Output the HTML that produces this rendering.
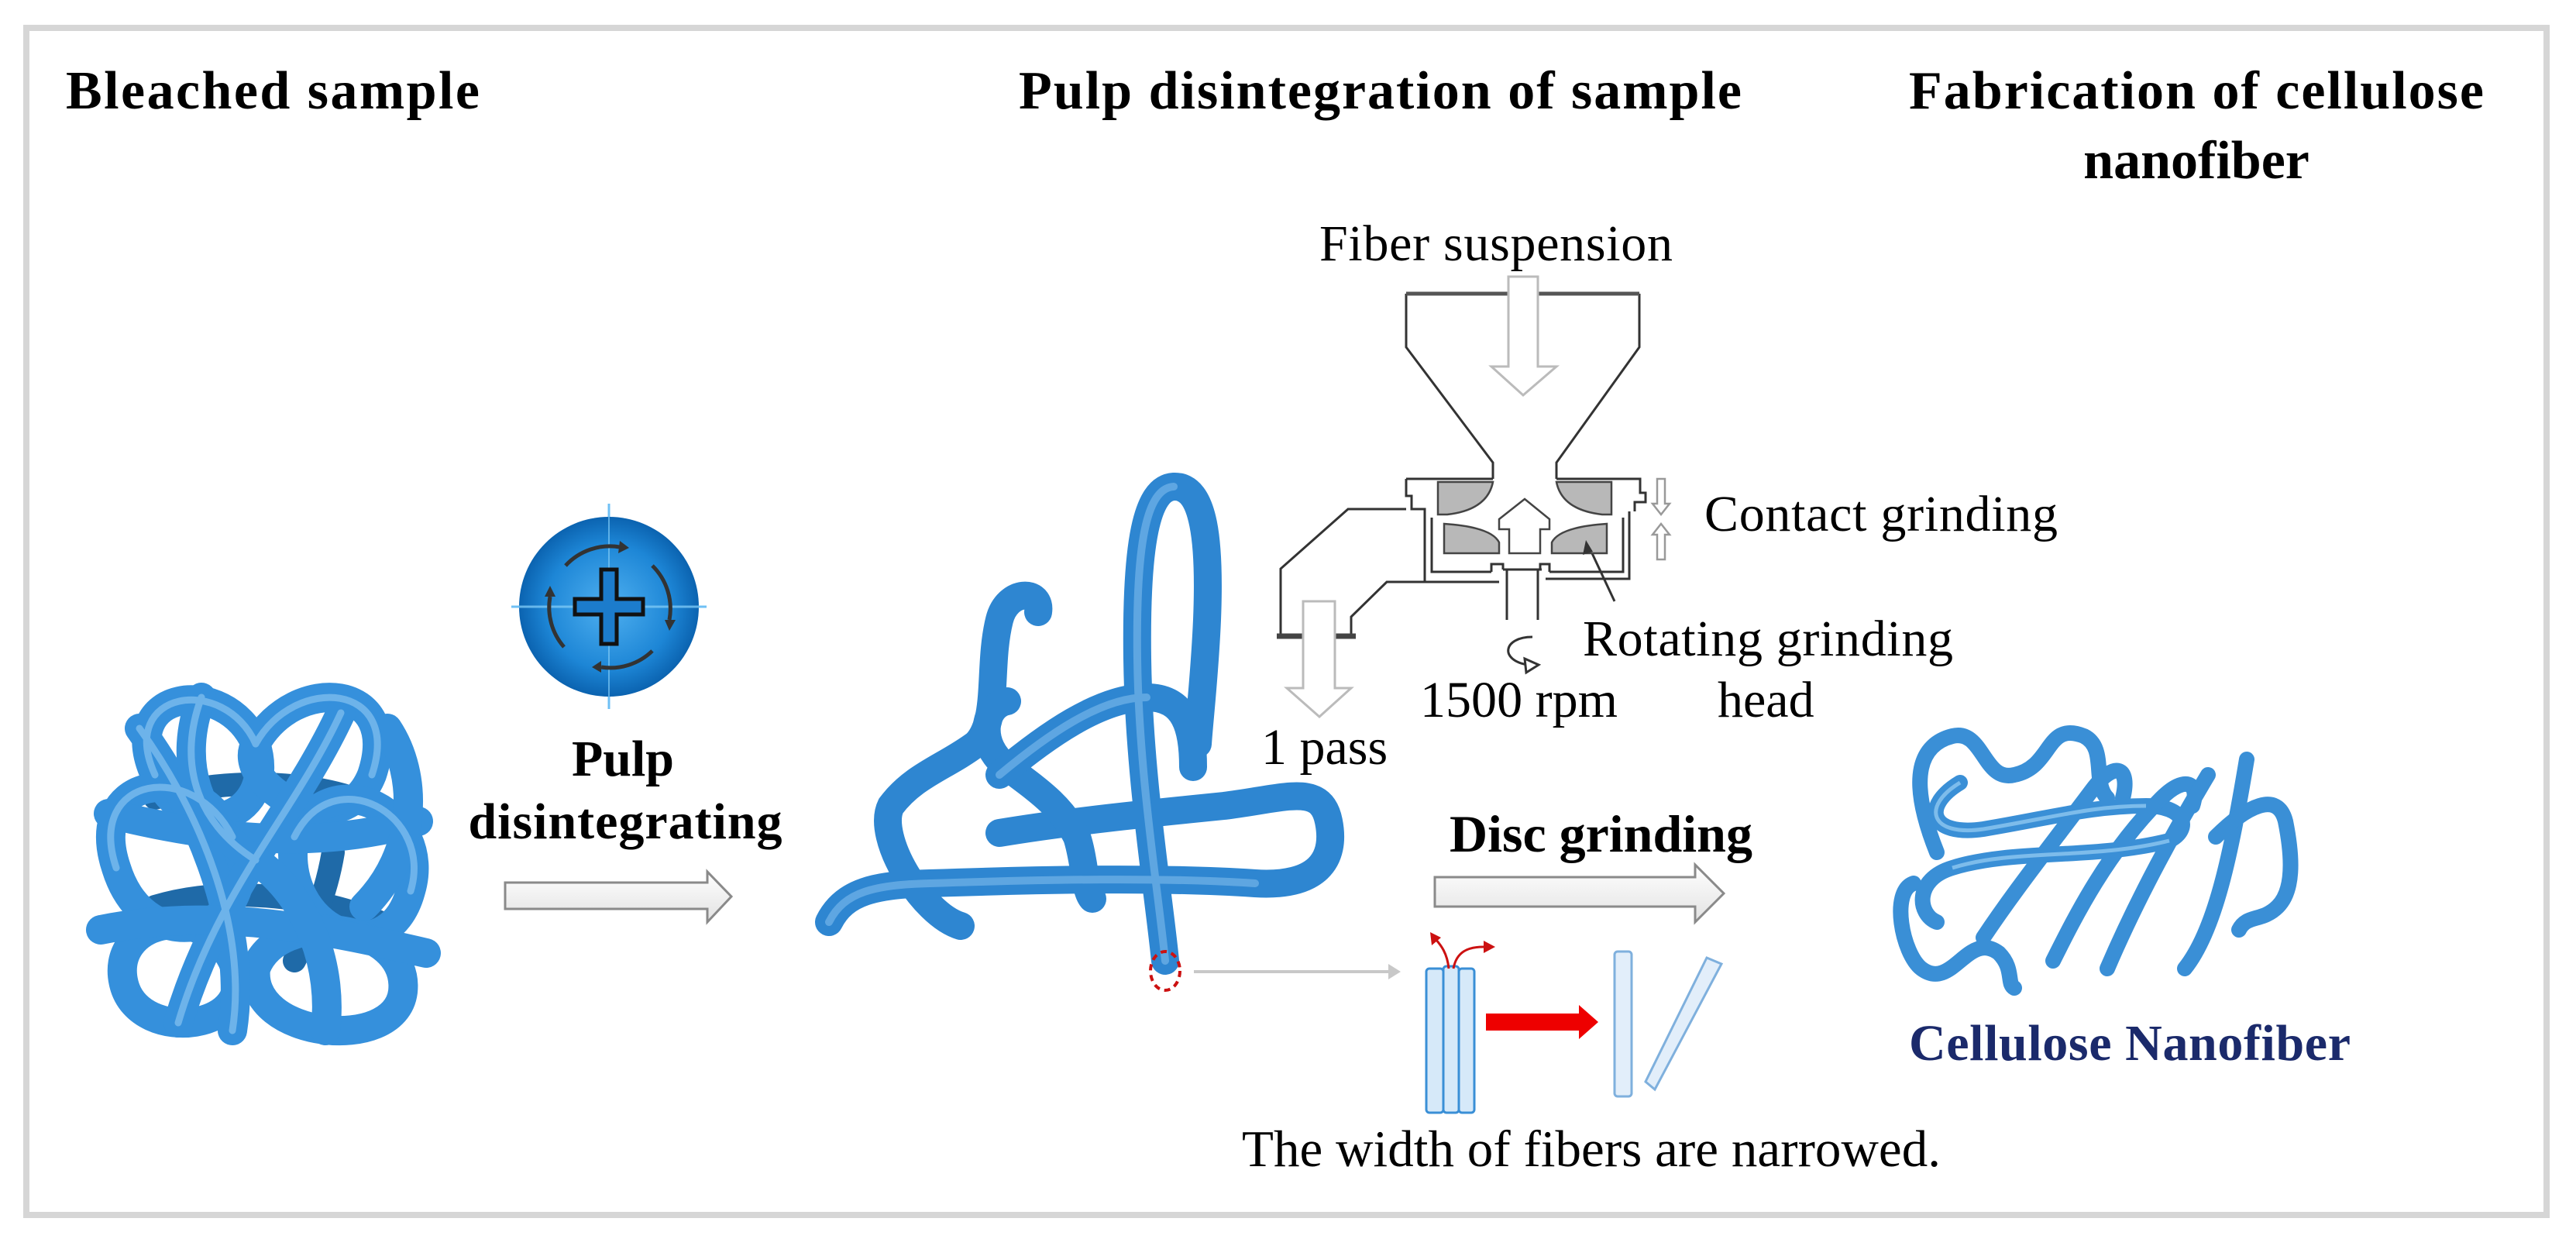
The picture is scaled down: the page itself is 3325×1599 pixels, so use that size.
<!DOCTYPE html>
<html><head><meta charset="utf-8"><style>
html,body{margin:0;padding:0;background:#fff}
svg{display:block}
text{font-family:"Liberation Serif",serif}
</style></head><body>
<svg width="3325" height="1599" viewBox="0 0 3325 1599" xmlns="http://www.w3.org/2000/svg">
<defs>
<radialGradient id="cg" cx="50%" cy="50%" r="50%">
<stop offset="0" stop-color="#4fb0f0"/><stop offset="0.7" stop-color="#1d86d6"/><stop offset="1" stop-color="#0b63b0"/>
</radialGradient>
<linearGradient id="ag" x1="0" y1="0" x2="0" y2="1">
<stop offset="0" stop-color="#ffffff"/><stop offset="1" stop-color="#e2e2e2"/>
</linearGradient>
</defs>
<rect x="0" y="0" width="3325" height="1599" fill="#fff"/>
<rect x="34" y="36" width="3253" height="1532" fill="none" stroke="#d6d6d6" stroke-width="8"/>

<!-- Titles -->
<text x="85" y="140" font-size="70" font-weight="bold" textLength="534">Bleached sample</text>
<text x="1315" y="140" font-size="70" font-weight="bold" textLength="933">Pulp disintegration of sample</text>
<text x="2464" y="140" font-size="70" font-weight="bold" textLength="742">Fabrication of cellulose</text>
<text x="2835" y="230" font-size="70" font-weight="bold" text-anchor="middle">nanofiber</text>

<!-- Left blob -->
<g fill="none" stroke-linecap="round">
<g stroke="#1f6aa8" stroke-width="30">
<path d="M200,1030 C300,1000 420,1010 480,1040"/>
<path d="M200,1170 C300,1140 420,1160 490,1190"/>
<path d="M380,1240 C400,1200 420,1160 430,1100"/>
</g>
<g stroke="#3590dc" stroke-width="38">
<path d="M200,1000 C150,890 290,870 330,960 C360,1050 250,1100 200,1000"/>
<path d="M330,960 C380,870 520,880 480,1000 C440,1100 300,1010 330,960"/>
<path d="M150,1120 C110,1000 250,980 300,1080 C350,1200 190,1250 150,1120"/>
<path d="M380,1080 C430,980 560,1050 530,1150 C500,1260 360,1200 380,1080"/>
<path d="M160,1270 C140,1190 260,1160 300,1240 C340,1330 180,1350 160,1270"/>
<path d="M330,1250 C360,1170 530,1190 520,1280 C510,1360 320,1340 330,1250"/>
<path d="M180,940 C260,1050 320,1200 300,1330"/>
<path d="M440,920 C380,1050 280,1150 230,1320"/>
<path d="M140,1050 C260,1080 400,1100 540,1060"/>
<path d="M130,1200 C280,1170 420,1200 550,1230"/>
<path d="M260,900 C230,980 250,1060 330,1110 C400,1160 430,1250 420,1330"/>
<path d="M500,940 C540,1000 540,1100 470,1170"/>
</g>
<g stroke="#8cc6f2" stroke-width="9" opacity="0.65">
<path d="M200,1000 C150,890 290,870 330,960"/>
<path d="M330,960 C380,870 520,880 480,1000"/>
<path d="M150,1120 C110,1000 250,980 300,1080"/>
<path d="M380,1080 C430,980 560,1050 530,1150"/>
<path d="M180,940 C260,1050 320,1200 300,1330"/>
<path d="M440,920 C380,1050 280,1150 230,1320"/>
<path d="M260,900 C230,980 250,1060 330,1110"/>
</g>
</g>

<!-- Circle icon -->
<line x1="786" y1="650" x2="786" y2="915" stroke="#6fc0f5" stroke-width="3"/>
<line x1="660" y1="783" x2="912" y2="783" stroke="#6fc0f5" stroke-width="3"/>
<circle cx="786" cy="783" r="116" fill="url(#cg)"/>
<line x1="786" y1="667" x2="786" y2="899" stroke="#7cc8f5" stroke-width="2" opacity="0.7"/>
<line x1="670" y1="783" x2="902" y2="783" stroke="#7cc8f5" stroke-width="3" opacity="0.8"/>
<g fill="none" stroke="#333" stroke-width="5">
<path d="M730,730 A78,78 0 0 1 800,706"/>
<path d="M842,730 A78,78 0 0 1 864,800"/>
<path d="M842,840 A78,78 0 0 1 776,861"/>
<path d="M728,835 A78,78 0 0 1 710,770"/>
</g>
<g fill="#333">
<polygon points="800,698 812,707 798,714"/>
<polygon points="858,800 872,800 864,814"/>
<polygon points="776,853 764,861 776,868"/>
<polygon points="703,770 717,770 710,756"/>
</g>
<path d="M776,735 H796 V773 H830 V793 H796 V831 H776 V793 H742 V773 H776 Z" fill="#1c7ccc" stroke="#111" stroke-width="5"/>

<text x="804" y="1001" font-size="66" font-weight="bold" text-anchor="middle">Pulp</text>
<text x="807" y="1082" font-size="66" font-weight="bold" text-anchor="middle" textLength="405">disintegrating</text>

<!-- Arrow 1 -->
<polygon points="652,1139 913,1139 913,1125 944,1157 913,1190 913,1173 652,1173" fill="url(#ag)" stroke="#8a8a8a" stroke-width="3"/>

<!-- Middle fiber -->
<g fill="none" stroke-linecap="round">
<g stroke="#2e86d1" stroke-width="36">
<path d="M1504,1240 C1495,1150 1470,1000 1468,850 C1466,700 1480,630 1515,628 C1555,626 1562,700 1558,800 C1555,870 1548,930 1546,960"/>
<path d="M1070,1190 C1090,1150 1130,1142 1200,1140 C1350,1135 1500,1132 1620,1140 C1700,1145 1725,1110 1715,1060 C1705,1010 1660,1030 1580,1040 C1480,1050 1380,1060 1290,1075"/>
<path d="M1340,790 C1345,760 1300,760 1290,800 C1275,860 1290,930 1260,960 C1220,990 1180,1000 1150,1040 C1130,1080 1190,1180 1240,1195"/>
<path d="M1300,905 C1270,910 1260,960 1300,990 C1340,1020 1370,1040 1390,1080 C1400,1110 1400,1150 1410,1160"/>
<path d="M1290,1000 C1350,950 1420,900 1480,900 C1530,900 1540,940 1540,990"/>
</g>
<g stroke="#7fbcec" stroke-width="10" opacity="0.6">
<path d="M1504,1240 C1495,1150 1470,1000 1468,850 C1466,700 1480,630 1515,628"/>
<path d="M1070,1190 C1090,1150 1130,1142 1200,1140 C1350,1135 1500,1132 1620,1140"/>
<path d="M1290,1000 C1350,950 1420,900 1480,900"/>
</g>
</g>
<ellipse cx="1504" cy="1253" rx="19" ry="25" fill="none" stroke="#cc1111" stroke-width="4" stroke-dasharray="8,6"/>
<line x1="1541" y1="1254" x2="1795" y2="1254" stroke="#c8c8c8" stroke-width="4"/>
<polygon points="1792,1244 1808,1254 1792,1264" fill="#c8c8c8"/>

<!-- Machine (full coords) -->
<text x="1703" y="336" font-size="66" textLength="456">Fiber suspension</text>
<text x="2200" y="685" font-size="66" textLength="456">Contact grinding</text>
<text x="2043" y="846" font-size="66" textLength="478">Rotating grinding</text>
<text x="2217" y="925" font-size="66">head</text>
<text x="1833" y="925" font-size="66" textLength="255">1500 rpm</text>
<text x="1628" y="986" font-size="66">1 pass</text>

<g fill="none" stroke="#333" stroke-width="3">
<path d="M1815,379 V448 L1927,597 V618"/>
<path d="M2116,379 V448 L2009,597 V618"/>
<path d="M1815,618 H1927 M2009,618 H2117 V636 H2124 V648 H2110 V660"/>
<path d="M1815,618 V640 H1822 V657 H1839 V751 H1935"/>
<path d="M2103,660 V747 H1995"/>
<path d="M1848,668 V738 H1925 M2000,738 H2095 V668"/>
<path d="M1925,738 V728 H1940 V735 M2000,738 V728 H1988 V735"/>
<path d="M1940,735 H1990 M1945,735 V800 M1985,735 V800"/>
<path d="M1815,657 H1740 L1653,734 V821"/>
<path d="M1839,751 H1790 L1744,796 V821"/>
<path d="M1978,822 C1940,822 1935,852 1972,858"/>
<line x1="2047" y1="697" x2="2084" y2="776"/>
</g>
<line x1="1815" y1="379" x2="2116" y2="379" stroke="#555" stroke-width="5"/>
<line x1="1648" y1="821" x2="1750" y2="821" stroke="#444" stroke-width="7"/>
<polygon points="1968,850 1986,858 1970,868" fill="#fff" stroke="#333" stroke-width="3"/>
<g fill="#b8b8b8" stroke="#444" stroke-width="2.5">
<path d="M1856,622 H1927 Q1920,658 1868,664 H1856 Z"/>
<path d="M2080,622 H2009 Q2016,658 2068,664 H2080 Z"/>
<path d="M1864,676 Q1925,680 1935,700 V714 H1864 Z"/>
<path d="M2074,676 Q2013,680 2003,700 V714 H2074 Z"/>
</g>
<path d="M1948,714 V683 H1935 V670 L1968,644 L2000,670 V683 H1988 V714 Z" fill="#fff" stroke="#444" stroke-width="2.5"/>
<polygon points="1947,357 1985,357 1985,473 2009,473 1966,510 1925,473 1947,473" fill="#fff" stroke="#bbb" stroke-width="3"/>
<polygon points="1682,776 1723,776 1723,888 1744,888 1703,925 1661,888 1682,888" fill="#fff" stroke="#bbb" stroke-width="3"/>
<polygon points="2139,618 2149,618 2149,650 2155,650 2144,664 2133,650 2139,650" fill="#fff" stroke="#999" stroke-width="2.5"/>
<polygon points="2144,676 2155,690 2149,690 2149,722 2139,722 2139,690 2133,690" fill="#fff" stroke="#999" stroke-width="2.5"/>
<polygon points="2047,697 2043,716 2056,712" fill="#333"/>

<!-- Disc grinding -->
<text x="1871" y="1099" font-size="68" font-weight="bold" textLength="391">Disc grinding</text>
<polygon points="1852,1132 2188,1132 2188,1116 2225,1153 2188,1190 2188,1170 1852,1170" fill="url(#ag)" stroke="#8a8a8a" stroke-width="3"/>

<!-- fibers -->
<g stroke="#3a8fd6" stroke-width="3" fill="#d6e9f9">
<rect x="1841" y="1250" width="22" height="186" rx="4"/>
<rect x="1863" y="1247" width="20" height="189" rx="4"/>
<rect x="1883" y="1250" width="20" height="186" rx="4"/>
<rect x="2084" y="1228" width="22" height="187" rx="4" fill="#e2eefa" stroke="#7fb0dd"/>
<polygon points="2203,1236 2222,1244 2136,1406 2124,1396" fill="#e2eefa" stroke="#7fb0dd"/>
</g>
<g fill="none" stroke="#cc1111" stroke-width="3">
<path d="M1870,1250 C1868,1230 1860,1220 1853,1212"/>
<path d="M1876,1250 C1880,1228 1895,1222 1915,1222"/>
</g>
<polygon points="1846,1203 1860,1210 1848,1220" fill="#cc1111"/>
<polygon points="1915,1214 1930,1222 1915,1230" fill="#cc1111"/>
<polygon points="1918,1308 2038,1308 2038,1297 2063,1319 2038,1341 2038,1330 1918,1330" fill="#ee0000"/>

<text x="1603" y="1505" font-size="67" textLength="902">The width of fibers are narrowed.</text>

<!-- Nanofiber -->
<g fill="none" stroke-linecap="round" stroke="#3a8fd6" stroke-width="20">
<path d="M2500,1100 C2460,1000 2480,960 2520,950 C2560,940 2560,1010 2600,1000 C2650,990 2640,930 2690,950 C2720,965 2700,1010 2720,1030"/>
<path d="M2530,1010 C2480,1040 2490,1080 2560,1070 C2650,1055 2700,1040 2770,1040 C2820,1040 2830,1070 2800,1085 C2700,1110 2600,1095 2520,1120 C2470,1135 2475,1180 2500,1190"/>
<path d="M2470,1140 C2440,1150 2455,1230 2480,1250 C2520,1280 2540,1200 2580,1230 C2600,1250 2590,1270 2600,1275"/>
<path d="M2560,1210 C2600,1150 2640,1100 2700,1020 C2730,980 2750,990 2740,1030"/>
<path d="M2650,1240 C2680,1180 2720,1100 2790,1030 C2820,1000 2840,1010 2830,1040"/>
<path d="M2720,1250 C2750,1180 2790,1100 2850,1000"/>
<path d="M2820,1250 C2860,1200 2880,1100 2900,980"/>
<path d="M2860,1080 C2900,1040 2940,1020 2950,1060 C2960,1110 2960,1150 2940,1170 C2920,1190 2900,1180 2890,1200"/>
</g>
<g fill="none" stroke="#9acff5" stroke-width="5" opacity="0.7">
<path d="M2530,1010 C2480,1040 2490,1080 2560,1070 C2650,1055 2700,1040 2770,1040"/>
<path d="M2800,1085 C2700,1110 2600,1095 2520,1120"/>
</g>

<text x="2464" y="1368" font-size="66" font-weight="bold" fill="#1b2a6b" textLength="570">Cellulose Nanofiber</text>
</svg>
</body></html>
